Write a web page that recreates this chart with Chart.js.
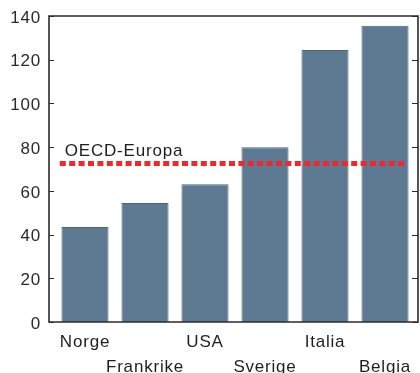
<!DOCTYPE html>
<html>
<head>
<meta charset="utf-8">
<script src="https://cdn.jsdelivr.net/npm/chart.js@4/dist/chart.umd.min.js"></script>
<style>
  html, body { margin: 0; padding: 0; background: #fff; }
  #wrap { width: 420px; height: 373px; }
</style>
</head>
<body>
<div id="wrap"><canvas id="c" width="420" height="373"></canvas></div>
<script>
// Countries and their index values
const categories = ['Norge', 'Frankrike', 'USA', 'Sverige', 'Italia', 'Belgia'];
const values = [43.5, 54.5, 63, 80, 124.5, 135.5];

// OECD-Europa reference level and how far it reaches along the category axis
const oecdLabel = 'OECD-Europa';
const oecdValue = 72.5;
const oecdSpan = [-0.42, 5.35];

// Value axis ticks
const yTicks = [0, 20, 40, 60, 80, 100, 120, 140];

const FONT = 'Liberation Sans, Arial, Helvetica, sans-serif';
const TEXT = '#1e1e1e';
const SPACING = '0.8px';

// Slightly wider lettering on all canvas text
const spacingPlugin = {
  id: 'spacing',
  beforeUpdate(chart) { chart.ctx.letterSpacing = SPACING; },
  beforeDraw(chart) { chart.ctx.letterSpacing = SPACING; }
};

// Box frame with inward tick marks on both sides, plus the reference label
const framePlugin = {
  id: 'frame',
  afterDatasetsDraw(chart) {
    const { ctx, chartArea: a, scales } = chart;
    const y = scales.y;
    ctx.save();
    ctx.strokeStyle = '#2b2b2b';
    ctx.lineWidth = 1.6;
    ctx.beginPath();
    ctx.moveTo(a.left, a.top);
    ctx.lineTo(a.right, a.top);
    ctx.lineTo(a.right, a.bottom);
    ctx.lineTo(a.left, a.bottom);
    ctx.closePath();
    ctx.stroke();
    ctx.lineWidth = 1.2;
    ctx.beginPath();
    yTicks.forEach(v => {
      const py = Math.round(y.getPixelForValue(v)) + 0.5;
      ctx.moveTo(a.left, py); ctx.lineTo(a.left + 5, py);
      ctx.moveTo(a.right, py); ctx.lineTo(a.right - 6, py);
    });
    ctx.stroke();

    ctx.letterSpacing = SPACING;
    ctx.fillStyle = TEXT;
    ctx.font = '17px ' + FONT;
    ctx.textAlign = 'left';
    ctx.textBaseline = 'alphabetic';
    ctx.fillText(oecdLabel, chart.scales.x.getPixelForValue(oecdSpan[0]) + 5,
                 y.getPixelForValue(oecdValue) - 8);
    ctx.restore();
  }
};

const barData = categories.map((c, i) => ({ x: i, y: values[i] }));
const lineData = oecdSpan.map(x => ({ x, y: oecdValue }));

new Chart(document.getElementById('c'), {
  type: 'bar',
  data: {
    datasets: [
      {
        type: 'line',
        data: lineData,
        borderColor: '#ea2a2e',
        borderWidth: 5,
        borderDash: [6, 3.4],
        pointRadius: 0,
        fill: false,
        order: 0
      },
      {
        type: 'bar',
        data: barData,
        backgroundColor: '#5e7a93',
        borderColor: '#4c647b',
        borderWidth: 1,
        categoryPercentage: 1,
        barPercentage: 0.785,
        order: 1
      }
    ]
  },
  options: {
    responsive: false,
    animation: false,
    devicePixelRatio: 1,
    layout: { padding: { top: 16, right: 2, left: 0, bottom: 0 } },
    plugins: {
      legend: { display: false },
      tooltip: { enabled: false }
    },
    scales: {
      x: {
        type: 'linear',
        offset: false,
        min: -0.6,
        max: 5.55,
        grid: { display: false, drawTicks: false, offset: false },
        border: { display: false },
        afterBuildTicks(scale) {
          scale.ticks = categories.map((c, i) => ({ value: i }));
        },
        afterFit(scale) { scale.height = 51; },
        ticks: {
          autoSkip: false,
          maxRotation: 0,
          padding: 8,
          color: TEXT,
          font: { family: FONT, size: 17, lineHeight: '25px' },
          callback(value) {
            const i = Math.round(value);
            return i % 2 ? ['', categories[i]] : categories[i];
          }
        }
      },
      y: {
        min: 0,
        max: 140,
        grid: { display: false, drawTicks: false },
        border: { display: false },
        afterBuildTicks(scale) {
          scale.ticks = yTicks.map(v => ({ value: v }));
        },
        afterFit(scale) { scale.width = 49; },
        ticks: {
          padding: 8,
          color: '#2a2a2a',
          // an empty first line with a 4px line height sets each number 2px below its tick
          font: { family: FONT, size: 17, lineHeight: '4px' },
          callback: (value) => ['', String(value)]
        }
      }
    }
  },
  plugins: [spacingPlugin, framePlugin]
});
</script>
</body>
</html>
